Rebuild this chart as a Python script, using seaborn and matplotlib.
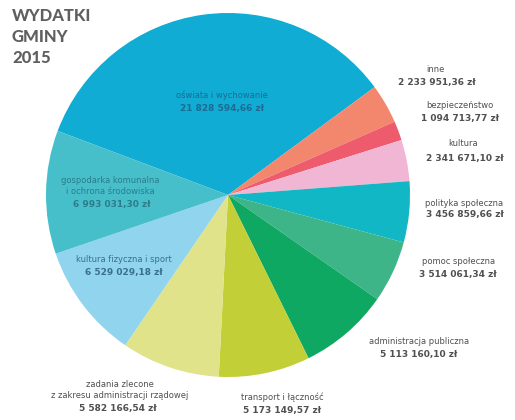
import matplotlib
matplotlib.use("Agg")
import matplotlib.pyplot as plt
import seaborn as sns

sns.set_theme(style="white")
plt.rcParams['font.family'] = ['DejaVu Sans']

categories = [
    "oświata i wychowanie",
    "inne",
    "bezpieczeństwo",
    "kultura",
    "polityka społeczna",
    "pomoc społeczna",
    "administracja publiczna",
    "transport i łączność",
    "zadania zlecone\nz zakresu administracji rządowej",
    "kultura fizyczna i sport",
    "gospodarka komunalna\ni ochrona środowiska",
]
values = [21828594.66, 2233951.36, 1094713.77, 2341671.10, 3456859.66,
          3514061.34, 5113160.10, 5173149.57, 5582166.54, 6529029.18,
          6993031.30]
value_labels = ["21 828 594,66 zł", "2 233 951,36 zł", "1 094 713,77 zł",
                "2 341 671,10 zł", "3 456 859,66 zł", "3 514 061,34 zł",
                "5 113 160,10 zł", "5 173 149,57 zł", "5 582 166,54 zł",
                "6 529 029,18 zł", "6 993 031,30 zł"]
colors = ["#10acd4", "#f3876d", "#ee5b6c", "#f2b6d5", "#11b7c5", "#3db589",
          "#0fa862", "#c2cf36", "#e1e38b", "#90d4ee", "#47bfcb"]

W, H = 515, 420
fig = plt.figure(figsize=(W / 100, H / 100), dpi=100)
fig.patch.set_facecolor("white")

cx, cy, r = 228, 195, 182
ax = fig.add_axes([(cx - r) / W, 1 - (cy + r) / H, 2 * r / W, 2 * r / H])
ax.pie(values, colors=colors, startangle=159.4, counterclock=False,
       radius=1, wedgeprops=dict(linewidth=0))
ax.set_xlim(-1, 1)
ax.set_ylim(-1, 1)
ax.set_aspect("equal")
ax.axis("off")

gray = "#505050"

def px(x, y, s, size=6.5, weight="normal", color=gray, ha="center"):
    fig.text(x / W, 1 - y / H, s, ha=ha, va="center", fontsize=size,
             fontweight=weight, color=color, linespacing=1.15)

fig.text(12 / W, 1 - 8 / H, "WYDATKI\nGMINY\n2015", ha="left", va="top",
         fontsize=12, fontweight="black", color="#5f5f5f", linespacing=1.38,
         family=["Lato", "DejaVu Sans"])

# label positions (name center, value center) in pixels
pos = [
    ((222, 95), (222, 108), "#1b6b93"),
    ((435, 69), (437, 82), gray),
    ((460, 106), (460, 119), gray),
    ((463, 144), (465, 158), gray),
    ((464, 203), (465, 215), gray),
    ((459, 261), (458, 274), gray),
    ((419, 342), (419, 354), gray),
    ((282, 397), (282, 410), gray),
    ((120, 390), (118, 408), gray),
    ((124, 259), (124, 272), "#3b6f8c"),
    ((110, 186), (112, 204), "#2b7d88"),
]
for name, val, (npos, vpos, col) in zip(categories, value_labels, pos):
    px(npos[0], npos[1], name, size=6, color=col)
    px(vpos[0], vpos[1], val, size=6.5, weight="bold", color=col)

fig.savefig("out.png", dpi=100, facecolor="white")
